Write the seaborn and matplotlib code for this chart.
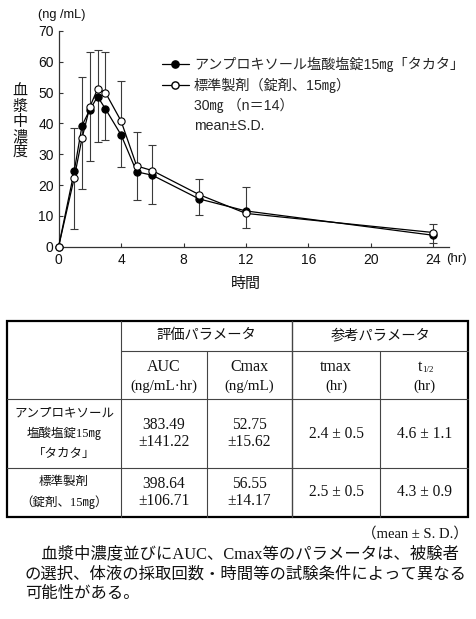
import numpy as np
import pandas as pd
import matplotlib
matplotlib.use("Agg")
import matplotlib.pyplot as plt
from matplotlib.lines import Line2D
import seaborn as sns

# ---------------- data ----------------
times = [0, 1, 1.5, 2, 2.5, 3, 4, 5, 6, 9, 12, 24]
test_mean = [0, 24.5, 39.3, 44.5, 48.7, 44.7, 36.3, 24.3, 23.2, 15.5, 11.6, 3.7]
test_sd = [0, 18.7, 20.6, 16.6, 14.8, 10.2, 10.5, 9.1, 9.4, 5.3, 5.6, 2.6]
ref_mean = [0, 22.3, 35.2, 45.4, 51.2, 50.0, 40.8, 26.2, 24.7, 16.9, 10.8, 4.6]
ref_sd = [0, 16.1, 19.8, 17.8, 12.6, 13.3, 13.1, 10.9, 8.4, 5.0, 8.5, 2.8]

test_label = "アンプロキソール塩酸塩錠15㎎「タカタ」"
ref_label = "標準製剤（錠剤、15㎎）"
note_labels = ["30㎎ （n＝14）", "mean±S.D."]
xticks = [0, 4, 8, 12, 16, 20, 24]
yticks = [0, 10, 20, 30, 40, 50, 60, 70]
ylabel = "血漿中濃度"
yunit = "(ng /mL)"
xlabel = "時間"
xunit = "(hr)"

group_headers = ["評価パラメータ", "参考パラメータ"]
param_names = ["AUC", "Cmax", "tmax", "t"]
param_units = ["(ng/mL·hr)", "(ng/mL)", "(hr)", "(hr)"]
row_names = [["アンプロキソール", "塩酸塩錠15㎎", "「タカタ」"], ["標準製剤", "（錠剤、15㎎）"]]
row_values = [["383.49\n±141.22", "52.75\n±15.62", "2.4 ± 0.5", "4.6 ± 1.1"],
              ["398.64\n±106.71", "56.55\n±14.17", "2.5 ± 0.5", "4.3 ± 0.9"]]
table_note = "（mean ± S. D.）"
para_lines = ["　血漿中濃度並びにAUC、Cmax等のパラメータは、被験者",
              "の選択、体液の採取回数・時間等の試験条件によって異なる",
              "可能性がある。"]

# ---------------- style ----------------
sns.set_style("ticks")
SANS = ["Liberation Sans", "Noto Sans CJK JP"]
SERIF = ["Liberation Serif", "Noto Sans CJK JP"]
plt.rcParams["font.family"] = SANS

W, H = 476, 619
fig = plt.figure(figsize=(W / 100, H / 100), dpi=100)


def fx(px):
    return px / W


def fy(py):
    return 1 - py / H


ax = fig.add_axes([fx(58.6), fy(246.7), fx(449) - fx(58.6), fy(31) - fy(246.7)])

df = pd.DataFrame({"time": times, "test": test_mean, "ref": ref_mean})

ecol = "#3a3a3a"
eb1 = ax.errorbar(times, test_mean, yerr=[test_sd, np.zeros(len(times))], fmt="none",
                  ecolor=ecol, elinewidth=0.8, capsize=2.6, capthick=0.8, zorder=2)
eb1[1][1].set_visible(False)
eb2 = ax.errorbar(times, ref_mean, yerr=[np.zeros(len(times)), ref_sd], fmt="none",
                  ecolor=ecol, elinewidth=0.8, capsize=2.6, capthick=0.8, zorder=2)
eb2[1][0].set_visible(False)

sns.lineplot(data=df, x="time", y="test", ax=ax, color="black", lw=0.9, marker="o",
             markersize=5.2, markerfacecolor="black", markeredgecolor="black",
             markeredgewidth=0.8, clip_on=False, zorder=3)
sns.lineplot(data=df, x="time", y="ref", ax=ax, color="black", lw=0.9, marker="o",
             markersize=5.2, markerfacecolor="white", markeredgecolor="black",
             markeredgewidth=0.8, clip_on=False, zorder=4)

ax.set_xlim(0, 25)
ax.set_ylim(0, 70)
ax.set_xticks(xticks)
ax.set_yticks(yticks)
ax.set_xlabel("")
ax.set_ylabel("")
for s in ["top", "right"]:
    ax.spines[s].set_visible(False)
for s in ["left", "bottom"]:
    ax.spines[s].set_color("#333333")
    ax.spines[s].set_linewidth(0.9)
ax.tick_params(direction="in", length=2.8, width=0.8, color="#333333", labelsize=10,
               labelcolor="#111111")
ax.tick_params(axis="x", pad=4.2)
ax.tick_params(axis="y", pad=3.5)
ax.set_facecolor("none")

handles = [Line2D([], [], color="black", lw=0.9, marker="o", markersize=5.2,
                  markerfacecolor="black", markeredgecolor="black"),
           Line2D([], [], color="black", lw=0.9, marker="o", markersize=5.2,
                  markerfacecolor="white", markeredgecolor="black"),
           Line2D([], [], color="none"),
           Line2D([], [], color="none")]
ax.legend(handles, [test_label, ref_label] + note_labels, loc="upper left",
          bbox_to_anchor=(fx(162), fy(56.5)), bbox_transform=fig.transFigure,
          frameon=False, fontsize=10.2, handlelength=1.9, handletextpad=0.35,
          labelspacing=0.40, borderpad=0, borderaxespad=0)

# axis labels
for i, ch in enumerate(ylabel):
    fig.text(fx(20), fy(92 + i * 15.0), ch, ha="center", va="center", fontsize=10.8,
             family=SANS, color="#111111")
fig.text(fx(38), fy(15), yunit, ha="left", va="center", fontsize=9.2, color="#111111")
fig.text(fx(246), fy(284), xlabel, ha="center", va="center", fontsize=10.8, color="#111111")
fig.text(fx(446), fy(259), xunit, ha="left", va="center", fontsize=9.5, color="#111111")

# ---------------- table ----------------
L, R, T, B = 7.3, 468.3, 320.7, 516.7
c1, c2, c3, c4 = 120.7, 206.7, 292.0, 380.3
r1, r2, r3 = 350.7, 399.3, 467.7
lc = "#444444"


def hline(y, x0, x1, lw=0.8, color=lc):
    fig.add_artist(Line2D([fx(x0), fx(x1)], [fy(y), fy(y)], lw=lw, color=color,
                          transform=fig.transFigure))


def vline(x, y0, y1, lw=0.8, color=lc):
    fig.add_artist(Line2D([fx(x), fx(x)], [fy(y0), fy(y1)], lw=lw, color=color,
                          transform=fig.transFigure))


hline(r1, c1, R)
hline(r2, L, R)
hline(r3, L, R)
vline(c1, T, B)
vline(c2, r1, B)
vline(c3, T, B, lw=1.0)
vline(c4, r1, B)
fig.add_artist(plt.Rectangle((fx(L), fy(B)), fx(R) - fx(L), fy(T) - fy(B), fill=False,
                             lw=1.6, edgecolor="black", transform=fig.transFigure))

tcol = "#111111"


def ttext(x, y, s, fs=9.0, ha="center", ls=1.2):
    fig.text(fx(x), fy(y), s, ha=ha, va="center", fontsize=fs, family=SERIF, color=tcol,
             linespacing=ls)


ttext((c1 + c3) / 2, 335.7, group_headers[0], fs=10.3)
ttext((c3 + R) / 2, 335.7, group_headers[1], fs=10.3)
centers = [(c1 + c2) / 2, (c2 + c3) / 2, (c3 + c4) / 2, (c4 + R) / 2]
for i, (nm, un) in enumerate(zip(param_names, param_units)):
    if i == 3:
        ttext(centers[i] - 4, 366.7, nm, fs=11.5)
        ttext(centers[i] + 3.5, 369.5, "1/2", fs=6.5)
    else:
        ttext(centers[i], 366.7, nm, fs=11.5)
    ttext(centers[i], 386, un, fs=10.8)

row_mid = [(r2 + r3) / 2, (r3 + B) / 2]
for r, (names, vals) in enumerate(zip(row_names, row_values)):
    n = len(names)
    for k, nm in enumerate(names):
        ttext((L + c1) / 2, row_mid[r] + (k - (n - 1) / 2) * 20.3, nm, fs=9.0)
    for i, v in enumerate(vals):
        ttext(centers[i], row_mid[r], v, fs=11.2, ls=1.1)

ttext(R, 534, table_note, fs=10.5, ha="right")
for i, line in enumerate(para_lines):
    fig.text(fx(25), fy(554 + i * 20.2), line, ha="left", va="center", fontsize=11.75,
             family=SERIF, color=tcol)

fig.savefig("out.png", dpi=100)
